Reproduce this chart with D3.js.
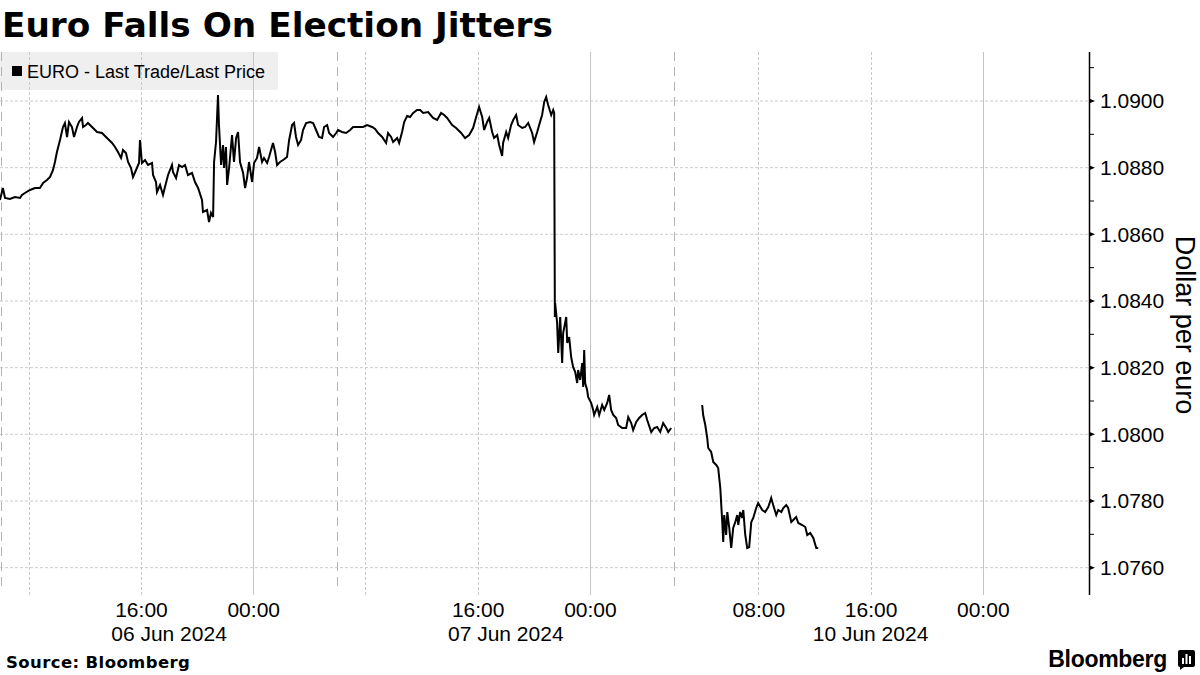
<!DOCTYPE html>
<html><head><meta charset="utf-8">
<script src="https://cdnjs.cloudflare.com/ajax/libs/d3/7.8.5/d3.min.js"></script>
<style>body{margin:0;background:#fff;} svg{display:block;}</style>
</head><body><svg id="c" width="1200" height="675"></svg>
<script>
// ---- DATA ----
const title = "Euro Falls On Election Jitters";
const seriesName = "EURO - Last Trade/Last Price";
const yAxisTitle = "Dollar per euro";
const sourceText = "Source: Bloomberg";
// Session 1: [hours since 06 Jun 2024 00:00, price]
const session1 = [[5.95,1.08703],[6.16,1.08739],[6.31,1.08709],[6.66,1.08706],[7.02,1.08712],[7.38,1.08709],[7.52,1.08718],[7.73,1.08724],[8.09,1.08733],[8.45,1.08739],[8.80,1.08739],[9.02,1.08754],[9.30,1.08763],[9.52,1.08772],[9.73,1.08793],[9.87,1.08817],[10.01,1.08847],[10.23,1.08883],[10.44,1.08922],[10.58,1.08934],[10.73,1.08892],[10.87,1.08937],[11.08,1.08922],[11.23,1.08892],[11.44,1.08922],[11.58,1.08937],[11.80,1.08949],[11.87,1.08922],[12.08,1.08928],[12.22,1.08934],[12.51,1.08922],[12.87,1.08907],[13.22,1.08904],[13.58,1.08889],[13.94,1.08874],[14.15,1.08862],[14.36,1.08847],[14.58,1.08829],[14.72,1.08853],[14.93,1.08844],[15.08,1.08817],[15.29,1.08799],[15.43,1.08772],[15.65,1.08793],[15.86,1.08814],[15.93,1.08883],
[16.07,1.08814],[16.29,1.08823],[16.50,1.08808],[16.79,1.08814],[16.86,1.08778],[17.07,1.08757],[17.14,1.08727],[17.36,1.08748],[17.57,1.08718],[17.71,1.08742],[17.93,1.08778],[18.21,1.08808],[18.28,1.08787],[18.50,1.08769],[18.71,1.08808],[18.93,1.08802],[19.14,1.08808],[19.35,1.08778],[19.64,1.08784],[19.85,1.08757],[20.07,1.08739],[20.35,1.08703],[20.42,1.08667],[20.71,1.08673],[20.85,1.08637],[20.99,1.08664],[21.14,1.08652],[21.21,1.08817],[21.35,1.08877],[21.49,1.09018],[21.56,1.08928],[21.71,1.08808],[21.85,1.08868],[21.92,1.08799],[22.06,1.08862],[22.14,1.08748],[22.28,1.08799],[22.49,1.08898],[22.63,1.08817],[22.78,1.08889],[22.92,1.08907],[23.06,1.08817],[23.28,1.08784],[23.42,1.08739],[23.56,1.08769],[23.70,1.08817],[23.92,1.08757],[24.06,1.08814],[24.27,1.08829],[24.42,1.08862],[24.63,1.08817],[24.77,1.08829],[24.99,1.08814],[25.13,1.08832],[25.41,1.08874],[25.56,1.08847],[25.70,1.08808],[25.91,1.08817],[26.13,1.08823],
[26.41,1.08832],[26.56,1.08883],[26.77,1.08928],[26.91,1.08934],[27.05,1.08892],[27.20,1.08868],[27.41,1.08883],[27.55,1.08913],[27.77,1.08934],[28.05,1.08937],[28.27,1.08934],[28.48,1.08913],[28.69,1.08892],[28.91,1.08889],[29.05,1.08922],[29.27,1.08928],[29.41,1.08904],[29.69,1.08892],[29.91,1.08904],[30.05,1.08913],[30.33,1.08907],[30.62,1.08904],[30.91,1.08913],[31.12,1.08922],[31.48,1.08922],[31.83,1.08922],[32.12,1.08928],[32.47,1.08922],[32.69,1.08916],[32.90,1.08904],[33.19,1.08892],[33.47,1.08874],[33.61,1.08904],[33.83,1.08892],[33.97,1.08877],[34.26,1.08889],[34.40,1.08874],[34.61,1.08907],[34.76,1.08937],[34.97,1.08955],[35.18,1.08952],[35.40,1.08964],[35.68,1.08973],
[35.90,1.08973],[36.11,1.08964],[36.47,1.08967],[36.82,1.08949],[37.11,1.08943],[37.39,1.08964],[37.61,1.08958],[37.82,1.08949],[38.18,1.08928],[38.46,1.08919],[38.82,1.08904],[39.10,1.08889],[39.39,1.08898],[39.67,1.08919],[39.89,1.08952],[40.10,1.08982],[40.32,1.08952],[40.46,1.08913],[40.67,1.08937],[40.82,1.08949],[41.03,1.08907],[41.17,1.08889],[41.39,1.08898],[41.53,1.08868],[41.74,1.08835],[41.81,1.08874],[42.03,1.08907],[42.17,1.08889],[42.38,1.08928],[42.53,1.08943],[42.74,1.08958],[42.88,1.08928],[43.17,1.08919],[43.38,1.08922],[43.60,1.08934],[43.88,1.08904],[44.02,1.08877],[44.24,1.08907],[44.38,1.08928],[44.59,1.08958],[44.74,1.08997],[44.88,1.09012],[45.02,1.08988],[45.24,1.08958],[45.38,1.08973],[45.45,1.08964],
[45.50,1.08352],[45.52,1.08394],[45.66,1.08334],[45.74,1.08244],[45.88,1.08352],[46.02,1.08214],[46.09,1.08304],[46.23,1.08334],[46.31,1.08352],[46.38,1.08274],[46.52,1.08292],[46.66,1.08232],[46.80,1.08202],[46.95,1.08187],[47.09,1.08154],[47.16,1.08193],[47.30,1.08163],[47.45,1.08214],[47.52,1.08142],[47.59,1.08253],[47.66,1.08154],[47.80,1.08133],[47.87,1.08112],[48.09,1.08094],[48.23,1.08073],[48.30,1.08058],[48.52,1.08082],[48.66,1.08058],[48.87,1.08088],[49.02,1.08073],[49.23,1.08094],[49.37,1.08118],[49.51,1.08073],[49.66,1.08058],[49.87,1.08049],[50.01,1.08028],[50.30,1.08019],[50.58,1.08019],[50.73,1.08052],[50.94,1.08034],[51.08,1.08013],[51.30,1.08037],[51.51,1.08049],[51.72,1.08058],[51.94,1.08064],[52.08,1.08043],[52.37,1.08007],[52.58,1.08019],[52.79,1.08022],[53.01,1.08007],[53.22,1.08034],[53.44,1.08019],[53.58,1.08007],[53.79,1.08019]];
// Session 2: [hours since 10 Jun 2024 00:00, price]
const session2 = [[4.00,1.08088],[4.07,1.08058],[4.22,1.08028],[4.36,1.07989],[4.43,1.07959],[4.64,1.07947],[4.79,1.07917],[5.00,1.07908],[5.14,1.07899],[5.29,1.07839],[5.43,1.07737],[5.50,1.07677],[5.57,1.07758],[5.71,1.07698],[5.79,1.07767],[5.93,1.07719],[6.07,1.07659],[6.21,1.07719],[6.36,1.07737],[6.50,1.07758],[6.57,1.07728],[6.71,1.07767],[6.85,1.07749],[6.93,1.07773],[7.07,1.07698],[7.21,1.07659],[7.35,1.07662],[7.50,1.07737],[7.64,1.07749],[7.85,1.07779],[7.99,1.07794],[8.28,1.07773],[8.49,1.07767],[8.71,1.07782],[8.92,1.07809],[9.06,1.07788],[9.28,1.07758],[9.42,1.07773],[9.64,1.07767],[9.78,1.07779],[9.99,1.07788],[10.13,1.07779],[10.35,1.07737],[10.49,1.07743],[10.70,1.07752],[10.85,1.07734],[11.13,1.07728],[11.35,1.07722],[11.49,1.07698],[11.70,1.07704],[11.92,1.07689],[12.13,1.07659],[12.27,1.07659]];

const yMajorTicks = [1.0760,1.0780,1.0800,1.0820,1.0840,1.0860,1.0880,1.0900];
const yMinorTicks = [1.0770,1.0790,1.0810,1.0830,1.0850,1.0870,1.0890,1.0910];
// time ticks: [day of June, hour]
const timeTickDays = [6,7,7,8,10,10,11];
const timeTickHours = [16,0,16,0,8,16,0];
const timeTickLabels = ["16:00","00:00","16:00","00:00","08:00","16:00","00:00"];
const midnightGrid = [[7,0],[8,0],[11,0]];
const dottedGrid = [[6,8],[6,16],[7,8],[7,16],[10,8],[10,16]];
const sessionGrid = [[6,6],[7,6],[8,6]];
const dateLabels = ["06 Jun 2024","07 Jun 2024","10 Jun 2024"];
const dateLabelAt = [[6,18],[7,18],[10,16]];
const domainStart = [6,5.952], domainEnd = [11,7.57];

// ---- LAYOUT ----
const svg = d3.select("#c");
const L = 0, R = 1089, T = 52, B = 595;
const GAP_START = 54, GAP_HOURS = 44; // weekend removed: 08 Jun 06:00 -> 10 Jun 02:00
function axisHour(day, hour){
  const r = (day-6)*24 + hour;
  return r >= GAP_START + GAP_HOURS ? r - GAP_HOURS : r;
}
const x = d3.scaleLinear().domain([axisHour(...domainStart), axisHour(...domainEnd)]).range([L, R]);
const y = d3.scaleLinear().domain([1.07518, 1.09147]).range([B, T]);
const regFont = "'Liberation Sans', Arial, sans-serif";
const boldFont = "'DejaVu Sans', Verdana, sans-serif";

// legend box (behind grid)
svg.append("rect").attr("x",0).attr("y",52).attr("width",278).attr("height",38).attr("rx",2).attr("fill","#efefef");

// horizontal grid
svg.append("g").selectAll("line").data(yMajorTicks).join("line")
  .attr("x1",L).attr("x2",R).attr("y1",d=>y(d)).attr("y2",d=>y(d))
  .attr("stroke","#cccccc").attr("stroke-width",1).attr("stroke-dasharray","3,2");
// vertical grid
svg.append("g").selectAll("line").data(dottedGrid).join("line")
  .attr("x1",d=>Math.round(x(axisHour(...d)))+0.5).attr("x2",d=>Math.round(x(axisHour(...d)))+0.5)
  .attr("y1",T).attr("y2",B).attr("stroke","#c8c8c8").attr("stroke-dasharray","3,2");
svg.append("g").selectAll("line").data(midnightGrid).join("line")
  .attr("x1",d=>Math.round(x(axisHour(...d)))+0.5).attr("x2",d=>Math.round(x(axisHour(...d)))+0.5)
  .attr("y1",T).attr("y2",B).attr("stroke","#c4c4c4");
svg.append("g").selectAll("line").data(sessionGrid).join("line")
  .attr("x1",d=>Math.max(1.5,Math.round(x(axisHour(...d)))+0.5)).attr("x2",d=>Math.max(1.5,Math.round(x(axisHour(...d)))+0.5))
  .attr("y1",T).attr("y2",B-6).attr("stroke","#b4b4b4").attr("stroke-dasharray","9,6");

// legend content
svg.append("rect").attr("x",12).attr("y",66).attr("width",10).attr("height",10).attr("fill","#000");
svg.append("text").attr("x",27).attr("y",78).attr("font-family",regFont).attr("font-size",18).attr("fill","#000").text(seriesName);

// data lines
const line = d3.line().x(d=>x(d[0])).y(d=>y(d[1]));
svg.append("path").datum(session1.map(d=>[axisHour(6,d[0]),d[1]])).attr("d",line)
  .attr("fill","none").attr("stroke","#000").attr("stroke-width",2).attr("stroke-linejoin","miter");
svg.append("path").datum(session2.map(d=>[axisHour(10,d[0]),d[1]])).attr("d",line)
  .attr("fill","none").attr("stroke","#000").attr("stroke-width",2).attr("stroke-linejoin","miter");

// y axis
const yAxis = svg.append("g").attr("transform",`translate(${R},0)`)
  .call(d3.axisRight(y).tickValues(yMajorTicks).tickFormat(d3.format(".4f")).tickSize(0).tickPadding(11));
yAxis.select(".domain").remove();
yAxis.selectAll("text").attr("font-family",regFont).attr("font-size",21).attr("fill","#000");
svg.append("line").attr("x1",R+0.5).attr("x2",R+0.5).attr("y1",T).attr("y2",B).attr("stroke","#000").attr("stroke-width",1.5);
svg.append("g").selectAll("path").data(yMajorTicks).join("path")
  .attr("d",d=>`M${R},${y(d)-2.5}L${R+6},${y(d)}L${R},${y(d)+2.5}Z`).attr("fill","#000");
svg.append("g").selectAll("line").data(yMinorTicks).join("line")
  .attr("x1",R).attr("x2",R+5).attr("y1",d=>y(d)).attr("y2",d=>y(d)).attr("stroke","#000");
svg.append("text").attr("transform",`translate(1176,325) rotate(90)`).attr("text-anchor","middle")
  .attr("font-family",regFont).attr("font-size",27).attr("fill","#000").text(yAxisTitle);

// x axis
const tickPos = timeTickDays.map((d,i)=>axisHour(d,timeTickHours[i]));
const xAxis = svg.append("g").attr("transform",`translate(0,${B})`)
  .call(d3.axisBottom(x).tickValues(tickPos).tickFormat((d,i)=>timeTickLabels[i]).tickSize(0).tickPadding(7));
xAxis.select(".domain").remove();
xAxis.selectAll("text").attr("font-family",regFont).attr("font-size",21).attr("fill","#000");
svg.append("g").selectAll("text").data(dateLabels).join("text")
  .attr("x",(d,i)=>x(axisHour(...dateLabelAt[i]))).attr("y",641).attr("text-anchor","middle")
  .attr("font-family",regFont).attr("font-size",21).attr("fill","#000").text(d=>d);

// title & footer
svg.append("text").attr("x",2).attr("y",37).attr("font-family",boldFont).attr("font-weight","bold")
  .attr("font-size",34.3).attr("fill","#000").text(title);
svg.append("text").attr("x",6).attr("y",668).attr("font-family",boldFont).attr("font-weight","bold")
  .attr("font-size",16.5).attr("letter-spacing","0.4").attr("fill","#000").text(sourceText);
svg.append("text").attr("x",1167).attr("y",667).attr("text-anchor","end").attr("font-family",regFont).attr("font-weight","bold")
  .attr("font-size",23).attr("fill","#000").attr("letter-spacing","-0.3").text("Bloomberg");
// logo icon
const logo = svg.append("g").attr("transform","translate(1178,650)");
logo.append("path").attr("d","M2,0H15a2,2 0 0 1 2,2V15a2,2 0 0 1 -2,2H6L2,20V17a2,2 0 0 1 -2,-2V2a2,2 0 0 1 2,-2Z").attr("fill","#000");
[[4,8,2,6],[7.5,4,2,10],[11,6,2,8]].forEach(b=>logo.append("rect").attr("x",b[0]).attr("y",b[1]).attr("width",b[2]).attr("height",b[3]).attr("fill","#fff"));
</script></body></html>
